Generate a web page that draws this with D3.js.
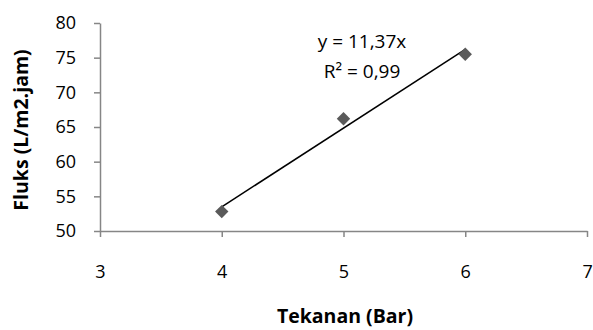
<!DOCTYPE html>
<meta charset="utf-8">
<style>
body { margin: 0; background: #fff; }
text { font-family: "Open Sans", sans-serif; fill: #000; }
.axis path, .axis line { stroke: #868686; stroke-width: 1.5px; }
.axis text { font-size: 18px; }
.title { font-size: 19.5px; font-weight: bold; }
.eq { font-size: 19px; }
</style>
<body>
<div id="chart"></div>
<script src="https://d3js.org/d3.v7.min.js"></script>
<script>
// data
var tekanan = [4, 5, 6];
var fluks = [52.8, 66.2, 75.5];
var xTicks = [3, 4, 5, 6, 7];
var yTicks = [50, 55, 60, 65, 70, 75, 80];
var eqLabel = "y = 11,37x";
var r2Label = "R² = 0,99";

var W = 593, H = 330;
var margin = {top: 23, right: 6, bottom: 99, left: 100};

var svg = d3.select("#chart").append("svg")
    .attr("width", W)
    .attr("height", H);

var x = d3.scaleLinear().domain([3, 7]).range([margin.left, W - margin.right]);
var y = d3.scaleLinear().domain([50, 80]).range([H - margin.bottom, margin.top]);

// axes
svg.append("g")
    .attr("class", "axis")
    .attr("transform", "translate(0," + y(50) + ")")
    .call(d3.axisBottom(x).tickValues(xTicks).tickFormat(d3.format("d"))
      .tickSize(6).tickSizeOuter(0).tickPadding(28))
    .call(function(g) {
      g.selectAll("text").attr("dy", "0.71em");
      g.select(".tick:last-of-type text").attr("text-anchor", "end").attr("dx", "0.3em");
    });

svg.append("g")
    .attr("class", "axis")
    .attr("transform", "translate(" + x(3) + ",0)")
    .call(d3.axisLeft(y).tickValues(yTicks).tickSize(6).tickSizeOuter(0).tickPadding(18));

// trendline (least squares)
var mx = d3.mean(tekanan), my = d3.mean(fluks);
var slope = d3.sum(tekanan, function(d, i) { return (d - mx) * (fluks[i] - my); }) /
            d3.sum(tekanan, function(d) { return (d - mx) * (d - mx); });
var icpt = my - slope * mx;
var x0 = d3.min(tekanan), x1 = d3.max(tekanan);
svg.append("line")
    .attr("x1", x(x0)).attr("y1", y(icpt + slope * x0))
    .attr("x2", x(x1)).attr("y2", y(icpt + slope * x1))
    .attr("stroke", "#000")
    .attr("stroke-width", 1.5);

// markers
svg.selectAll(".pt")
    .data(tekanan)
  .enter().append("path")
    .attr("class", "pt")
    .attr("d", d3.symbol().type(d3.symbolSquare).size(90))
    .attr("transform", function(d, i) {
      return "translate(" + x(d) + "," + y(fluks[i]) + ") rotate(45)"; })
    .attr("fill", "#5a5a5a");

// equation label
svg.append("text")
    .attr("class", "eq")
    .attr("x", 362).attr("y", 48)
    .attr("text-anchor", "middle")
    .text(eqLabel);
svg.append("text")
    .attr("class", "eq")
    .attr("x", 362).attr("y", 78)
    .attr("text-anchor", "middle")
    .text(r2Label);

// axis titles
svg.append("text")
    .attr("class", "title")
    .attr("x", 345).attr("y", 323)
    .attr("text-anchor", "middle")
    .text("Tekanan (Bar)");

svg.append("text")
    .attr("class", "title")
    .attr("transform", "translate(28," + 130 + ") rotate(-90)")
    .attr("text-anchor", "middle")
    .text("Fluks (L/m2.jam)");
</script>
</body>
